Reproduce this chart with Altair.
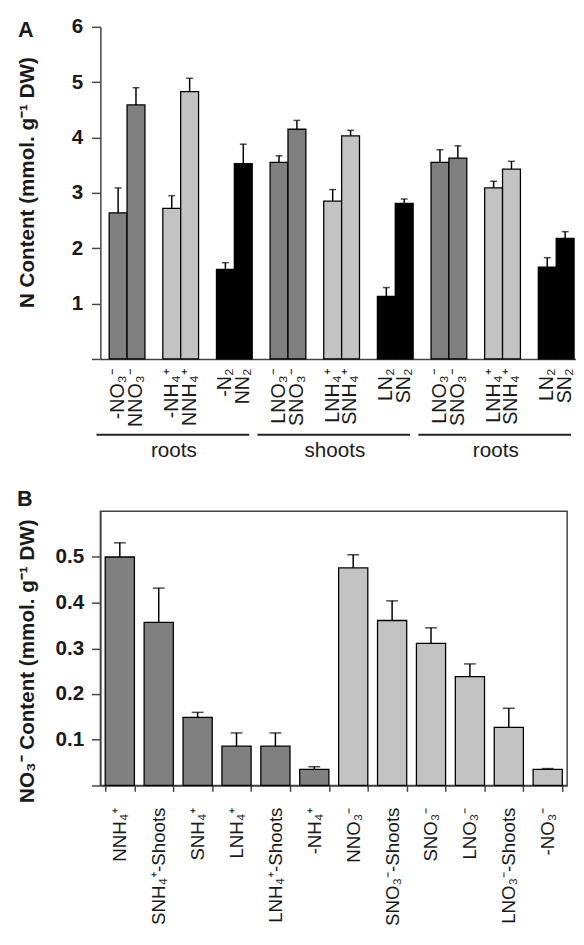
import altair as alt
import pandas as pd

FONT = "Liberation Sans"
AXIS_COLOR = "#444444"
TEXT_COLOR = "#1a1a1a"

# ---------------- Panel A data ----------------
a_labels = ["-NO₃⁻", "NNO₃⁻", "-NH₄⁺", "NNH₄⁺", "-N₂", "NN₂",
            "LNO₃⁻", "SNO₃⁻", "LNH₄⁺", "SNH₄⁺", "LN₂", "SN₂",
            "LNO₃⁻", "SNO₃⁻", "LNH₄⁺", "SNH₄⁺", "LN₂", "SN₂"]
a_values = [2.64, 4.59, 2.72, 4.83, 1.62, 3.53,
            3.55, 4.15, 2.85, 4.03, 1.13, 2.81,
            3.55, 3.63, 3.09, 3.43, 1.66, 2.18]
a_errors = [0.45, 0.31, 0.23, 0.24, 0.12, 0.35,
            0.12, 0.16, 0.21, 0.10, 0.16, 0.08,
            0.23, 0.22, 0.12, 0.14, 0.17, 0.12]
a_shade = ["dark", "dark", "light", "light", "black", "black"] * 3
group_names = ["roots", "shoots", "roots"]
group_first = [0, 6, 12]
group_last = [5, 11, 17]
a_ticks = [0, 1, 2, 3, 4, 5, 6]

# ---------------- Panel B data ----------------
b_labels = ["NNH₄⁺", "SNH₄⁺-Shoots", "SNH₄⁺", "LNH₄⁺", "LNH₄⁺-Shoots", "-NH₄⁺",
            "NNO₃⁻", "SNO₃⁻-Shoots", "SNO₃⁻", "LNO₃⁻", "LNO₃⁻-Shoots", "-NO₃⁻"]
b_values = [0.500, 0.357, 0.149, 0.086, 0.086, 0.035,
            0.476, 0.361, 0.311, 0.238, 0.127, 0.035]
b_errors = [0.031, 0.075, 0.011, 0.029, 0.029, 0.006,
            0.029, 0.043, 0.034, 0.028, 0.042, 0.002]
b_shade = ["dark"] * 6 + ["light"] * 6
b_ticks = [0, 0.1, 0.2, 0.3, 0.4, 0.5]

shade_domain = ["dark", "light", "black"]
shade_range = ["#808080", "#c3c3c3", "#000000"]

# ---------- build unique keys / slots for panel A ----------
ZW = "\u200b"
seen = {}
a_keys = []
for lab in a_labels:
    n = seen.get(lab, 0)
    a_keys.append(lab + ZW * n)
    seen[lab] = n + 1
slots = []
for i, k in enumerate(a_keys):
    slots.append(k)
    if i % 2 == 1 and i < len(a_keys) - 1:
        slots.append(ZW * (10 + i))

df_a = pd.DataFrame({"key": a_keys, "value": a_values, "err": a_errors, "shade": a_shade})
df_a["upper"] = df_a["value"] + df_a["err"]

df_g = pd.DataFrame({
    "name": group_names,
    "start": [a_keys[i] for i in group_first],
    "end": [a_keys[i] for i in group_last],
    "mid": [a_keys[i + 3] for i in group_first],
})

WA, HA = 484, 338
WB, HB = 475, 279

color = alt.Color("shade:N", scale=alt.Scale(domain=shade_domain, range=shade_range), legend=None)

x_scale_a = alt.Scale(domain=slots, paddingInner=0, paddingOuter=0.3, align=0.82)
x_axis_a = alt.Axis(title=None, labelAngle=270, ticks=False, tickSize=0, labelPadding=9,
                    labelFont=FONT, labelFontSize=20, labelColor=TEXT_COLOR,
                    domainColor=AXIS_COLOR, domainWidth=1.5)
y_axis_a = alt.Axis(values=a_ticks, labelExpr="datum.value == 0 ? '' : datum.label",
                    title="N Content (mmol. g⁻¹ DW)", titleFont=FONT, titleFontSize=21,
                    titleFontWeight="bold", titleColor=TEXT_COLOR, titleX=-74, titleY=158,
                    titleBaseline="middle", titleAngle=270,
                    labelFont=FONT, labelFontSize=21, labelFontWeight="bold", labelColor=TEXT_COLOR,
                    labelPadding=9, tickSize=9, tickColor=AXIS_COLOR, tickWidth=1.5,
                    domainColor=AXIS_COLOR, domainWidth=1.5, grid=False)
y_scale_a = alt.Scale(domain=[0, 6], nice=False)


def xa(field):
    return alt.X(field, scale=x_scale_a, axis=x_axis_a)


def ya(field):
    return alt.Y(field, scale=y_scale_a, axis=y_axis_a)


bars_a = alt.Chart(df_a).mark_bar(stroke="black", strokeWidth=1.3).encode(
    x=xa("key:N"), y=ya("value:Q"), color=color)
err_a = alt.Chart(df_a).mark_rule(color="black", strokeWidth=1.5).encode(
    x=xa("key:N"), y=ya("value:Q"), y2="upper:Q")
cap_a = alt.Chart(df_a).mark_tick(color="black", thickness=1.5, size=7).encode(
    x=xa("key:N"), y=ya("upper:Q"))
grp_rule = alt.Chart(df_g).mark_rule(color="#222222", strokeWidth=2, xOffset=-22, x2Offset=6).encode(
    x=xa("start:N"), x2="end:N", y=alt.value(HA + 77))
grp_text = alt.Chart(df_g).mark_text(font=FONT, fontSize=21, color=TEXT_COLOR, xOffset=-16,
                                     baseline="middle").encode(
    x=xa("mid:N"), y=alt.value(HA + 94), text="name:N")
lab_a = alt.Chart(pd.DataFrame({"panel": ["A"]})).mark_text(
    font=FONT, fontSize=22, fontWeight="bold", color=TEXT_COLOR, baseline="middle").encode(
    x=alt.value(-76), y=alt.value(3), text="panel:N")

panel_a = alt.layer(bars_a, err_a, cap_a, grp_rule, grp_text, lab_a).properties(width=WA, height=HA)

# ---------------- Panel B ----------------
df_b = pd.DataFrame({"label": b_labels, "value": b_values, "err": b_errors, "shade": b_shade})
df_b["upper"] = df_b["value"] + df_b["err"]

x_scale_b = alt.Scale(domain=b_labels, paddingInner=0.25, paddingOuter=0.125)
x_axis_b = alt.Axis(title=None, labelAngle=270, tickBand="extent", ticks=True, tickSize=6,
                    tickColor=AXIS_COLOR, tickWidth=1.5, labelPadding=16,
                    labelFont=FONT, labelFontSize=19, labelColor=TEXT_COLOR,
                    domainColor=AXIS_COLOR, domainWidth=1.5)
y_axis_b = alt.Axis(values=b_ticks, format=".1f", labelExpr="datum.value == 0 ? '' : datum.label",
                    title="NO₃⁻ Content (mmol. g⁻¹ DW)", titleFont=FONT, titleFontSize=21,
                    titleFontWeight="bold", titleColor=TEXT_COLOR, titleX=-74, titleY=152,
                    titleBaseline="middle", titleAngle=270,
                    labelFont=FONT, labelFontSize=21, labelFontWeight="bold", labelColor=TEXT_COLOR,
                    labelPadding=8, tickSize=9, tickColor=AXIS_COLOR, tickWidth=1.5,
                    domainColor=AXIS_COLOR, domainWidth=1.5, grid=False)
y_scale_b = alt.Scale(domain=[0, 0.6], nice=False)


def xb(field):
    return alt.X(field, scale=x_scale_b, axis=x_axis_b)


def yb(field):
    return alt.Y(field, scale=y_scale_b, axis=y_axis_b)


bars_b = alt.Chart(df_b).mark_bar(stroke="black", strokeWidth=1.3).encode(
    x=xb("label:N"), y=yb("value:Q"), color=color)
err_b = alt.Chart(df_b).mark_rule(color="black", strokeWidth=1.5).encode(
    x=xb("label:N"), y=yb("value:Q"), y2="upper:Q")
cap_b = alt.Chart(df_b).mark_tick(color="black", thickness=1.5, size=12).encode(
    x=xb("label:N"), y=yb("upper:Q"))
lab_b = alt.Chart(pd.DataFrame({"panel": ["B"]})).mark_text(
    font=FONT, fontSize=22, fontWeight="bold", color=TEXT_COLOR, baseline="middle").encode(
    x=alt.value(-77), y=alt.value(-12), text="panel:N")

panel_b = alt.layer(bars_b, err_b, cap_b, lab_b).properties(
    width=WB, height=HB, view=alt.ViewBackground(stroke=AXIS_COLOR, strokeWidth=1.5))

chart = alt.vconcat(panel_a, panel_b, spacing=27).properties(
    padding={"left": 8, "top": 0, "right": 0, "bottom": 0}
).configure_view(strokeWidth=0)

chart.save("out.html", embed_options={"renderer": "svg", "actions": False})
